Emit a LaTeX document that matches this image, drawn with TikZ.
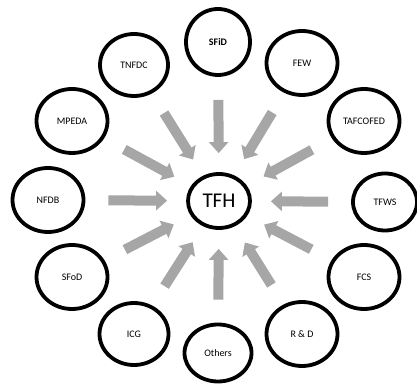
\documentclass[tikz,border=0pt]{standalone}
\usepackage{fontspec}
\setmainfont{Carlito}
\usetikzlibrary{arrows.meta,shapes.geometric,shadows}

\definecolor{arrowgray}{RGB}{166,166,166}

\begin{document}
\begin{tikzpicture}[
    x=1pt, y=1pt,
    member/.style={ellipse, draw=black, line width=3.8pt, fill=white, minimum width=71pt, minimum height=64pt, inner sep=0pt, font=\fontsize{10}{12}\selectfont, drop shadow={opacity=0.25, shadow xshift=1pt, shadow yshift=-1.5pt}},
    hub/.style={ellipse, draw=black, line width=3.8pt, fill=white, minimum width=62pt, minimum height=54pt, inner sep=0pt, font=\fontsize{21}{24}\selectfont},
    flow/.style={draw=arrowgray, line width=10pt, -{Triangle[width=19pt, length=11pt]}, shorten <=23pt, shorten >=19pt}
]
\useasboundingbox (0,0) rectangle (417,387);

\node[hub] (tfh) at (219,186) {TFH};

\node[member, minimum width=64pt, minimum height=66pt] (sfid) at (218,345) {\bfseries SFiD};
\node[member] (few) at (302,324) {FEW};
\node[member] (tafcofed) at (364,266) {TAFCOFED};
\node[member, minimum width=64pt, minimum height=57pt] (tfws) at (385,185) {TFWS};
\node[member] (fcs) at (364,110) {FCS};
\node[member] (rnd) at (302,53) {R \& D};
\node[member, minimum width=67pt, minimum height=57pt] (others) at (218,34) {Others};
\node[member, minimum width=69pt, minimum height=62pt] (icg) at (134,53) {ICG};
\node[member] (sfod) at (72,110) {SFoD};
\node[member] (nfdb) at (48,187) {NFDB};
\node[member] (mpeda) at (72,266) {MPEDA};
\node[member, minimum width=68pt, minimum height=62pt] (tnfdc) at (134,322) {TNFDC};

\draw[flow] (sfid) -- (tfh);
\draw[flow] (few) -- (tfh);
\draw[flow] (tafcofed) -- (tfh);
\draw[flow] (tfws) -- (tfh);
\draw[flow] (fcs) -- (tfh);
\draw[flow] (rnd) -- (tfh);
\draw[flow] (others) -- (tfh);
\draw[flow] (icg) -- (tfh);
\draw[flow] (sfod) -- (tfh);
\draw[flow] (nfdb) -- (tfh);
\draw[flow] (mpeda) -- (tfh);
\draw[flow] (tnfdc) -- (tfh);
\end{tikzpicture}
\end{document}
